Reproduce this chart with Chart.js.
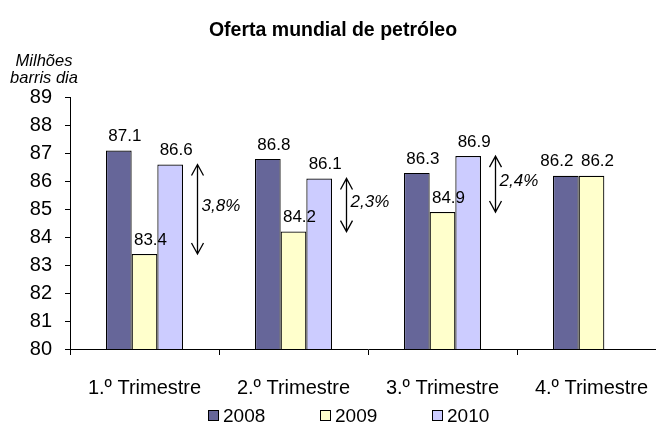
<!DOCTYPE html>
<html>
<head>
<meta charset="utf-8">
<script src="https://cdn.jsdelivr.net/npm/chart.js@4"></script>
<style>
  html, body { margin: 0; padding: 0; background: #fff; overflow: hidden; }
  #wrap { width: 656px; height: 425px; overflow: hidden; }
</style>
</head>
<body>
<div id="wrap"><canvas id="chart" width="680" height="425"></canvas></div>
<script>
const categories = ["1.º Trimestre", "2.º Trimestre", "3.º Trimestre", "4.º Trimestre"];
const years = ["2008", "2009", "2010"];
const values2008 = [87.1, 86.8, 86.3, 86.2];
const values2009 = [83.4, 84.2, 84.9, 86.2];
const values2010 = [86.6, 86.1, 86.9, null];
const changeLabels = ["3,8%", "2,3%", "2,4%", null];
const yMin = 80, yMax = 89;

const colors = ["#666699", "#FFFFCC", "#CCCCFF"];
const FONT = "'Liberation Sans', Arial, sans-serif";

Chart.defaults.font.family = FONT;
Chart.defaults.color = "#000";

// value labels over each bar
const valueLabels = {
  id: "valueLabels",
  afterDatasetsDraw(chart) {
    const ctx = chart.ctx;
    ctx.save();
    ctx.font = "17px " + FONT;
    ctx.fillStyle = "#000";
    ctx.textAlign = "center";
    ctx.textBaseline = "middle";
    chart.data.datasets.forEach((ds, d) => {
      chart.getDatasetMeta(d).data.forEach((bar, i) => {
        if (ds.data[i] == null) return;
        let dx = 6;
        // only two bars in the group: push the first label left so they don't touch
        if (d === 0 && values2010[i] == null) dx = -9;
        ctx.fillText(ds.data[i].toFixed(1), bar.x + dx, bar.y - 14);
      });
    });
    ctx.restore();
  }
};

// double arrows between 2009 and 2010
const changeArrows = {
  id: "changeArrows",
  afterDatasetsDraw(chart) {
    const ctx = chart.ctx;
    const y = chart.scales.y;
    const meta = chart.getDatasetMeta(2);
    ctx.save();
    ctx.strokeStyle = "#000";
    ctx.lineWidth = 1.3;
    ctx.fillStyle = "#000";
    ctx.font = "italic 17px " + FONT;
    ctx.textAlign = "left";
    ctx.textBaseline = "middle";
    changeLabels.forEach((txt, i) => {
      if (!txt) return;
      const bar = meta.data[i];
      const x = Math.round(bar.x + bar.width / 2 + 13.5) + 0.5;
      const top = y.getPixelForValue(values2010[i]);
      const bot = y.getPixelForValue(values2009[i]);
      ctx.beginPath();
      ctx.moveTo(x, top); ctx.lineTo(x, bot);
      ctx.moveTo(x - 6, top + 11); ctx.lineTo(x, top); ctx.lineTo(x + 6, top + 11);
      ctx.moveTo(x - 6, bot - 11); ctx.lineTo(x, bot); ctx.lineTo(x + 6, bot - 11);
      ctx.stroke();
      ctx.fillText(txt, x + 4, (top + bot) / 2 - 3);
    });
    ctx.restore();
  }
};

// unit label and legend
const extras = {
  id: "extras",
  afterDraw(chart) {
    const ctx = chart.ctx;
    const a = chart.chartArea;
    ctx.save();
    ctx.fillStyle = "#000";
    ctx.font = "italic 16.5px " + FONT;
    ctx.textAlign = "center";
    ctx.textBaseline = "middle";
    ctx.fillText("Milhões", a.left - 26, a.top - 36);
    ctx.fillText("barris dia", a.left - 26, a.top - 19);

    const step = 112;
    const cx = 348;
    const ly = 416;
    ctx.font = "19px " + FONT;
    ctx.textAlign = "left";
    chart.data.datasets.forEach((ds, d) => {
      const bx = cx - 140 + d * step;
      ctx.fillStyle = ds.backgroundColor;
      ctx.fillRect(bx + 0.5, ly - 5.5, 10, 10);
      ctx.strokeStyle = "#000";
      ctx.lineWidth = 1;
      ctx.strokeRect(bx + 0.5, ly - 5.5, 10, 10);
      ctx.fillStyle = "#000";
      ctx.fillText(ds.label, bx + 15, ly + 1);
    });
    ctx.restore();
  }
};

new Chart(document.getElementById("chart"), {
  type: "bar",
  data: {
    labels: categories,
    datasets: [
      { label: years[0], data: values2008, backgroundColor: colors[0] },
      { label: years[1], data: values2009, backgroundColor: colors[1] },
      { label: years[2], data: values2010, backgroundColor: colors[2] }
    ].map(ds => Object.assign(ds, {
      borderColor: "#000",
      borderWidth: 1.2,
      borderSkipped: false,
      categoryPercentage: 0.517,
      barPercentage: 1.0
    }))
  },
  options: {
    responsive: false,
    animation: false,
    devicePixelRatio: 1,
    layout: { padding: { left: 0, right: 14, top: 0, bottom: 0 } },
    plugins: {
      legend: { display: false },
      tooltip: { enabled: false },
      title: {
        display: true,
        text: "Oferta mundial de petróleo",
        font: { size: 19.5, weight: "bold", lineHeight: 1.2 },
        color: "#000",
        padding: { top: 19, bottom: 55 }
      }
    },
    scales: {
      x: {
        grid: {
          offset: true,
          drawOnChartArea: false,
          color: "#000",
          tickLength: 6
        },
        border: { color: "#000", width: 1 },
        ticks: { font: { size: 20, lineHeight: 1.2 }, padding: 21, color: "#000", maxRotation: 0 },
        afterFit(scale) { scale.height = 76; }
      },
      y: {
        min: yMin,
        max: yMax,
        grid: {
          drawOnChartArea: false,
          color: "#000",
          tickLength: 5
        },
        border: { color: "#000", width: 1 },
        ticks: { stepSize: 1, font: { size: 20 }, padding: 13, color: "#000" },
        afterFit(scale) { scale.width = 70; }
      }
    }
  },
  plugins: [valueLabels, changeArrows, extras]
});
</script>
</body>
</html>
